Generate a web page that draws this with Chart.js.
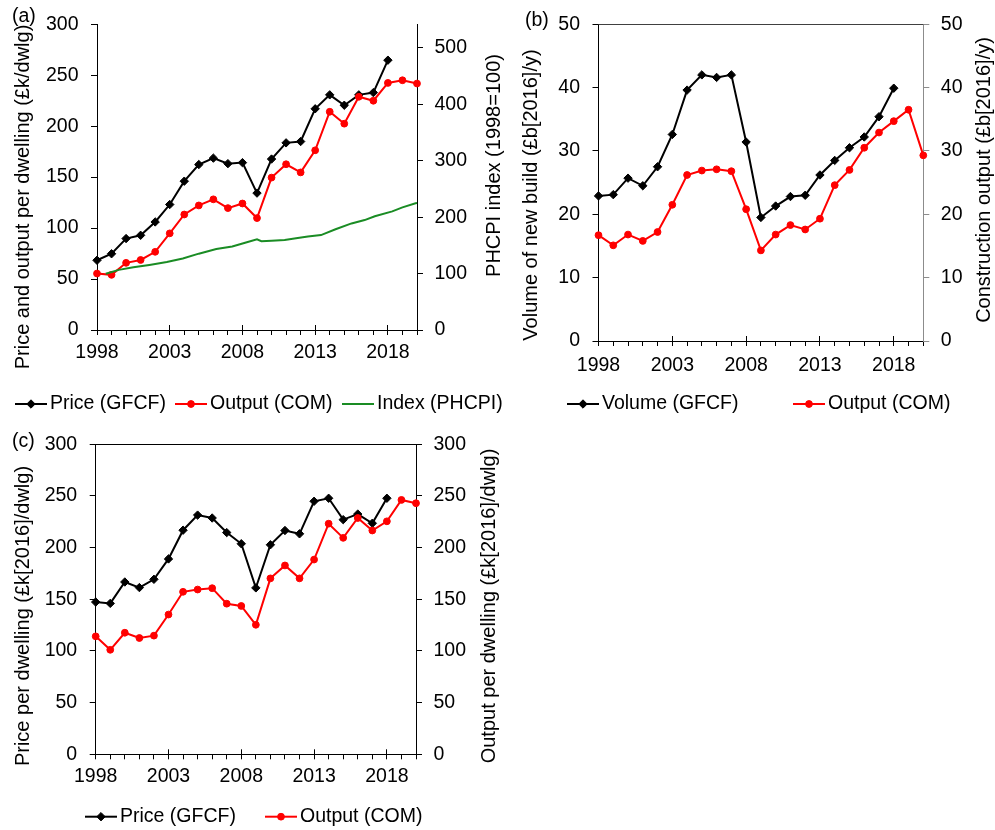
<!DOCTYPE html>
<html>
<head>
<meta charset="utf-8">
<title>New build price, output and volume</title>
<script src="https://cdn.jsdelivr.net/npm/chart.js@4.4.1/dist/chart.umd.min.js"></script>
<style>
  html, body { margin: 0; padding: 0; background: #fff; }
  body { width: 995px; height: 830px; position: relative; overflow: hidden; }
  canvas { position: absolute; }
  #chartA { left: 0; top: 0; }
  #chartB { left: 505px; top: 0; }
  #chartC { left: 0; top: 420px; }
</style>
</head>
<body>
<canvas id="chartA" width="525" height="420"></canvas>
<canvas id="chartB" width="490" height="420"></canvas>
<canvas id="chartC" width="525" height="410"></canvas>
<script>
// Years on the x axis (annual series) and the labelled years
const YEARS = [1998, 1999, 2000, 2001, 2002, 2003, 2004, 2005, 2006, 2007, 2008, 2009,
               2010, 2011, 2012, 2013, 2014, 2015, 2016, 2017, 2018, 2019, 2020];
const X_TICKS = [1998, 2003, 2008, 2013, 2018];

// (a) price and output per dwelling (£k/dwlg)
const A_PRICE = [68.4, 74.8, 89.7, 92.9, 106, 123.1, 146, 162.3, 168.6, 163.2, 164.2, 134.3,
                 167.7, 183.6, 184.9, 217, 230.7, 220.5, 230.7, 232.9, 264.7];
const A_OUTPUT = [55.4, 54.1, 65.9, 68.7, 76.7, 94.8, 113.3, 122.2, 128.2, 119.6, 124.1, 109.8,
                  149.5, 162.6, 154.6, 176.3, 214.1, 202.4, 228.8, 224.9, 242.4, 245, 241.8];
// (a) PHCPI index (1998=100), finer time steps
const A_INDEX_T = [1998.6, 1999.5, 2000.5, 2001.6, 2002.8, 2003.9, 2005.0, 2006.2, 2007.3, 2008.3,
                   2009.0, 2009.3, 2010.0, 2010.9, 2011.8, 2012.5, 2013.4, 2014.4, 2015.5, 2016.4,
                   2017.1, 2018.3, 2019.0, 2019.9, 2020.0];
const A_INDEX = [99.7, 106.6, 111.1, 115.3, 120.5, 126.7, 135.3, 143.4, 148.1, 155.5,
                 160.7, 157.3, 158.1, 159.5, 163, 165.9, 168.2, 178.5, 188.9, 194.8,
                 201.7, 210.3, 217.3, 224.7, 225];
const A_LEFT_TICKS = [0, 50, 100, 150, 200, 250, 300];
const A_RIGHT_TICKS = [0, 100, 200, 300, 400, 500];

// (b) volume of new build and construction output (£b[2016]/y)
const B_VOLUME = [22.9, 23.1, 25.7, 24.5, 27.5, 32.6, 39.6, 42.0, 41.6, 42.0, 31.4, 19.5,
                  21.3, 22.8, 23.0, 26.2, 28.5, 30.5, 32.2, 35.4, 39.9];
const B_OUTPUT = [16.7, 15.1, 16.8, 15.8, 17.2, 21.5, 26.2, 26.9, 27.1, 26.8, 20.8, 14.3,
                  16.8, 18.3, 17.6, 19.3, 24.6, 27.0, 30.5, 32.9, 34.7, 36.5, 29.3];
const B_TICKS = [0, 10, 20, 30, 40, 50];

// (c) price and output per dwelling (£k[2016]/dwlg)
const C_PRICE = [147.3, 146, 166.7, 161.3, 169.3, 189, 216.8, 231.4, 228.6, 214.5, 203.7, 161,
                 202.7, 216.5, 213.3, 244.8, 247.7, 227, 232.4, 223.5, 247.7];
const C_OUTPUT = [114.1, 101.1, 117.6, 112.5, 114.8, 135.2, 157.2, 159.4, 160.7, 145.7, 143.5, 125.3,
                  170.2, 182.7, 170.2, 188.4, 223.1, 209.4, 228.6, 216.5, 225.4, 246.1, 242.9];
const C_TICKS = [0, 50, 100, 150, 200, 250, 300];

Chart.defaults.font.family = '"Liberation Sans", Arial, sans-serif';
Chart.defaults.font.size = 19.5;
Chart.defaults.color = '#000';

const TICK_FONT = { size: 19.5 };
const TITLE_FONT = '20px "Liberation Sans", Arial, sans-serif';
const KEY_FONT = '19.5px "Liberation Sans", Arial, sans-serif';

function pairs(xs, ys) {
    return ys.map((y, i) => ({ x: xs[i], y: y }));
}

// black diamonds
function priceSet(label, ys, axis) {
    return {
        label: label, data: pairs(YEARS, ys), yAxisID: axis,
        borderColor: '#000', backgroundColor: '#000', borderWidth: 2,
        pointStyle: 'rectRot', pointRadius: 4.2, pointBorderWidth: 1,
        tension: 0, clip: false, order: 2
    };
}

// red circles
function outputSet(label, ys, axis) {
    return {
        label: label, data: pairs(YEARS, ys), yAxisID: axis,
        borderColor: '#ff0000', backgroundColor: '#ff0000', borderWidth: 2,
        pointStyle: 'circle', pointRadius: 3.4, pointBorderWidth: 1,
        tension: 0, clip: false, order: 1
    };
}

function xAxis(height, pad) {
    return {
        type: 'linear', min: 1998, max: 2020,
        afterBuildTicks: s => { s.ticks = YEARS.map(v => ({ value: v })); },
        afterFit: s => { s.height = height; },
        ticks: {
            autoSkip: false, maxRotation: 0, minRotation: 0, padding: pad, font: TICK_FONT,
            callback: v => X_TICKS.includes(v) ? String(v) : ''
        },
        grid: { display: true, drawOnChartArea: false, drawTicks: true, tickLength: 5, tickColor: '#000' },
        border: { display: true, color: '#000', width: 1 }
    };
}

function yAxis(side, max, tickVals, width, pad, color) {
    return {
        type: 'linear', position: side, min: 0, max: max,
        afterBuildTicks: s => { s.ticks = tickVals.map(v => ({ value: v })); },
        afterFit: s => { s.width = width; },
        ticks: { padding: pad, font: TICK_FONT, callback: v => String(v) },
        grid: { display: true, drawOnChartArea: false, drawTicks: true, tickLength: 6, tickColor: color },
        border: { display: true, color: color, width: 1 }
    };
}

// panel letter, rotated axis titles, crossing major ticks, top edge and the key row
function decor(cfg) {
    return {
        id: 'decor',
        afterDraw(chart) {
            const ctx = chart.ctx, area = chart.chartArea, xs = chart.scales.x;
            ctx.save();
            ctx.lineWidth = 1;
            if (cfg.topLine) {
                const yTop = Math.round(area.top - 0.5) + 0.5;
                ctx.strokeStyle = cfg.topLine;
                ctx.beginPath();
                ctx.moveTo(area.left, yTop);
                ctx.lineTo(area.right, yTop);
                ctx.stroke();
            }
            ctx.strokeStyle = '#000';
            X_TICKS.forEach(v => {
                const px = Math.round(xs.getPixelForValue(v) - 0.5) + 0.5;
                ctx.beginPath();
                ctx.moveTo(px, area.bottom);
                ctx.lineTo(px, area.bottom - 5);
                ctx.stroke();
            });

            ctx.fillStyle = '#000';
            ctx.textBaseline = 'middle';
            ctx.font = KEY_FONT;
            ctx.textAlign = 'left';
            ctx.fillText(cfg.tag[0], cfg.tag[1], cfg.tag[2]);

            ctx.font = TITLE_FONT;
            ctx.textAlign = 'center';
            cfg.titles.forEach(t => {
                ctx.save();
                ctx.translate(t[1], t[2]);
                ctx.rotate(-Math.PI / 2);
                ctx.fillText(t[0], 0, 0);
                ctx.restore();
            });

            ctx.font = KEY_FONT;
            ctx.textAlign = 'left';
            chart.data.datasets.forEach((ds, i) => {
                const tx = cfg.keyX[i], y = cfg.keyY;
                ctx.strokeStyle = ds.borderColor;
                ctx.lineWidth = ds.borderWidth;
                ctx.beginPath();
                ctx.moveTo(tx - 35, y);
                ctx.lineTo(tx - 3, y);
                ctx.stroke();
                if (ds.pointRadius > 0) {
                    ctx.fillStyle = ds.borderColor;
                    ctx.lineWidth = ds.pointBorderWidth;
                    Chart.helpers.drawPoint(ctx, {
                        pointStyle: ds.pointStyle, radius: ds.pointRadius,
                        borderWidth: ds.pointBorderWidth, rotation: 0
                    }, tx - 19, y);
                }
                ctx.fillStyle = '#000';
                ctx.fillText(ds.label, tx, y);
            });
            ctx.restore();
        }
    };
}

function baseOptions(top) {
    return {
        responsive: false, animation: false, events: [],
        layout: { padding: { top: top, left: 0, right: 0, bottom: 0 } },
        plugins: { legend: { display: false }, tooltip: { enabled: false } }
    };
}

// (a)
new Chart(document.getElementById('chartA'), {
    type: 'line',
    data: {
        datasets: [
            priceSet('Price (GFCF)', A_PRICE, 'y'),
            outputSet('Output (COM)', A_OUTPUT, 'y'),
            {
                label: 'Index (PHCPI)', data: pairs(A_INDEX_T, A_INDEX), yAxisID: 'y2',
                borderColor: '#1a8c24', borderWidth: 2, pointRadius: 0,
                tension: 0, clip: false, order: 0
            }
        ]
    },
    options: Object.assign(baseOptions(15.5), {
        scales: {
            x: xAxis(90, 6),
            y: yAxis('left', 300, A_LEFT_TICKS, 97, 12.5, '#000'),
            y2: yAxis('right', 542, A_RIGHT_TICKS, 108, 11.5, '#000')
        }
    }),
    plugins: [decor({
        tag: ['(a)', 12, 16.5],
        titles: [['Price and output per dwelling (£k/dwlg)', 23, 197],
                 ['PHCPI index (1998=100)', 494, 165.5]],
        keyX: [50, 210, 377], keyY: 404
    })]
});

// (b)
new Chart(document.getElementById('chartB'), {
    type: 'line',
    data: {
        datasets: [
            priceSet('Volume (GFCF)', B_VOLUME, 'y'),
            outputSet('Output (COM)', B_OUTPUT, 'y2')
        ]
    },
    options: Object.assign(baseOptions(20.7), {
        scales: {
            x: xAxis(79, 8),
            y: yAxis('left', 50, B_TICKS, 93.5, 12.5, '#000'),
            y2: yAxis('right', 50, B_TICKS, 71.7, 11.5, '#8c8c8c')
        }
    }),
    plugins: [decor({
        topLine: '#404040',
        tag: ['(b)', 20, 21],
        titles: [['Volume of new build (£b[2016]/y)', 26, 195],
                 ['Construction output (£b[2016]/y)', 479, 180]],
        keyX: [97, 323], keyY: 404
    })]
});

// (c)
new Chart(document.getElementById('chartC'), {
    type: 'line',
    data: {
        datasets: [
            priceSet('Price (GFCF)', C_PRICE, 'y'),
            outputSet('Output (COM)', C_OUTPUT, 'y2')
        ]
    },
    options: Object.assign(baseOptions(20.7), {
        scales: {
            x: xAxis(75.7, 6),
            y: yAxis('left', 300, C_TICKS, 95.7, 12.5, '#000'),
            y2: yAxis('right', 300, C_TICKS, 109, 11.5, '#000')
        }
    }),
    plugins: [decor({
        topLine: '#000',
        tag: ['(c)', 12, 22],
        titles: [['Price per dwelling (£k[2016]/dwlg)', 23, 196],
                 ['Output per dwelling (£k[2016]/dwlg)', 489, 186]],
        keyX: [120, 300], keyY: 396.7
    })]
});
</script>
</body>
</html>
